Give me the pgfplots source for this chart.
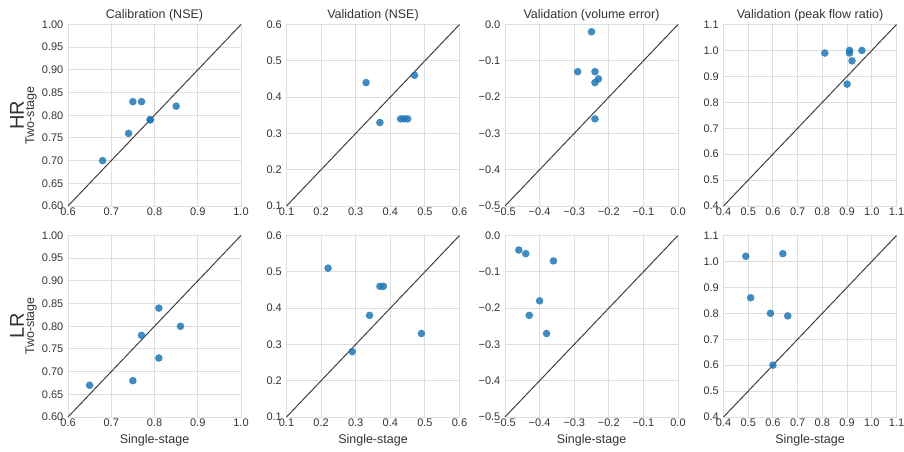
\documentclass[border=0pt]{standalone}
\usepackage{fontspec}
\setmainfont{Liberation Sans}
\usepackage{pgfplots}
\pgfplotsset{compat=1.18}
\definecolor{gridc}{HTML}{DEDEDE}
\definecolor{txt}{HTML}{333333}
\definecolor{mk}{HTML}{1F77B4}
\definecolor{diag}{HTML}{404040}
\pgfplotsset{
  panel/.style={
    scale only axis, width=173pt, height=181.5pt, anchor=south west,
    axis line style={draw=gridc, line width=1pt},
    grid=major, grid style={draw=gridc, line width=1pt},
    major tick length=0pt, tick style={draw=none},
    ticklabel style={font=\fontsize{11}{13}\selectfont, text=txt},
    xticklabel style={inner sep=1.5pt},
    yticklabel style={inner sep=0pt, xshift=-4.5pt},
    clip=false,
  },
  pts/.style={color=mk, only marks, mark=*, mark size=3.8pt, mark options={fill=mk, draw opacity=0, fill opacity=0.85}},
  dg/.style={diag, line width=1pt, no marks},
  pA/.style={xmin=0.6,xmax=1.0,ymin=0.6,ymax=1.0,
    xtick={0.6,0.7,0.8,0.9,1.0}, xticklabels={0.6,0.7,0.8,0.9,1.0},
    ytick={0.6,0.65,0.7,0.75,0.8,0.85,0.9,0.95,1.0},
    yticklabels={0.60,0.65,0.70,0.75,0.80,0.85,0.90,0.95,1.00}},
  pB/.style={xmin=0.1,xmax=0.6,ymin=0.1,ymax=0.6,
    xtick={0.1,0.2,0.3,0.4,0.5,0.6}, xticklabels={0.1,0.2,0.3,0.4,0.5,0.6},
    ytick={0.1,0.2,0.3,0.4,0.5,0.6}, yticklabels={0.1,0.2,0.3,0.4,0.5,0.6}},
  pC/.style={xmin=-0.5,xmax=0,ymin=-0.5,ymax=0,
    xtick={-0.5,-0.4,-0.3,-0.2,-0.1,0}, xticklabels={−0.5,−0.4,−0.3,−0.2,−0.1,0.0},
    ytick={-0.5,-0.4,-0.3,-0.2,-0.1,0}, yticklabels={−0.5,−0.4,−0.3,−0.2,−0.1,0.0}},
  pD/.style={xmin=0.4,xmax=1.1,ymin=0.4,ymax=1.1,
    xtick={0.4,0.5,0.6,0.7,0.8,0.9,1.0,1.1}, xticklabels={0.4,0.5,0.6,0.7,0.8,0.9,1.0,1.1},
    ytick={0.4,0.5,0.6,0.7,0.8,0.9,1.0,1.1}, yticklabels={0.4,0.5,0.6,0.7,0.8,0.9,1.0,1.1}},
}
\begin{document}
\begin{tikzpicture}[x=1pt,y=1pt]
\useasboundingbox (0pt,0pt) rectangle (904pt,451pt);
% ---------- Row 1: HR ----------
\begin{axis}[panel, pA, at={(68pt,245pt)}]
\addplot[dg] coordinates {(0.6,0.6) (1.0,1.0)};
\addplot[pts] coordinates {(0.68,0.70) (0.74,0.76) (0.75,0.83) (0.77,0.83) (0.79,0.79) (0.79,0.79) (0.85,0.82)};
\end{axis}
\begin{axis}[panel, pB, at={(286.5pt,245pt)}]
\addplot[dg] coordinates {(0.1,0.1) (0.6,0.6)};
\addplot[pts] coordinates {(0.33,0.44) (0.37,0.33) (0.43,0.34) (0.44,0.34) (0.45,0.34) (0.47,0.46)};
\end{axis}
\begin{axis}[panel, pC, at={(505pt,245pt)}]
\addplot[dg] coordinates {(-0.5,-0.5) (0,0)};
\addplot[pts] coordinates {(-0.25,-0.02) (-0.29,-0.13) (-0.24,-0.13) (-0.23,-0.15) (-0.24,-0.16) (-0.24,-0.26)};
\end{axis}
\begin{axis}[panel, pD, at={(723.5pt,245pt)}]
\addplot[dg] coordinates {(0.4,0.4) (1.1,1.1)};
\addplot[pts] coordinates {(0.81,0.99) (0.91,1.00) (0.91,0.99) (0.92,0.96) (0.96,1.00) (0.90,0.87)};
\end{axis}
% ---------- Row 2: LR ----------
\begin{axis}[panel, pA, at={(68pt,34pt)}]
\addplot[dg] coordinates {(0.6,0.6) (1.0,1.0)};
\addplot[pts] coordinates {(0.65,0.67) (0.75,0.68) (0.77,0.78) (0.81,0.84) (0.81,0.73) (0.86,0.80)};
\end{axis}
\begin{axis}[panel, pB, at={(286.5pt,34pt)}]
\addplot[dg] coordinates {(0.1,0.1) (0.6,0.6)};
\addplot[pts] coordinates {(0.22,0.51) (0.29,0.28) (0.34,0.38) (0.37,0.46) (0.38,0.46) (0.49,0.33)};
\end{axis}
\begin{axis}[panel, pC, at={(505pt,34pt)}]
\addplot[dg] coordinates {(-0.5,-0.5) (0,0)};
\addplot[pts] coordinates {(-0.46,-0.04) (-0.44,-0.05) (-0.36,-0.07) (-0.40,-0.18) (-0.43,-0.22) (-0.38,-0.27)};
\end{axis}
\begin{axis}[panel, pD, at={(723.5pt,34pt)}]
\addplot[dg] coordinates {(0.4,0.4) (1.1,1.1)};
\addplot[pts] coordinates {(0.49,1.02) (0.64,1.03) (0.51,0.86) (0.59,0.80) (0.66,0.79) (0.60,0.60)};
\end{axis}
% ---------- titles and labels ----------
\begin{scope}[every node/.style={text=txt, font=\fontsize{12.5}{15}\selectfont}]
\node at (154.5pt,436pt) {Calibration (NSE)};
\node at (373pt,436pt) {Validation (NSE)};
\node at (591.5pt,436pt) {Validation (volume error)};
\node at (810pt,436pt) {Validation (peak flow ratio)};
\node at (154.5pt,11pt) {Single-stage};
\node at (373pt,11pt) {Single-stage};
\node at (591.5pt,11pt) {Single-stage};
\node at (810pt,11pt) {Single-stage};
\node[rotate=90] at (31pt,335.5pt) {Two-stage};
\node[rotate=90] at (31pt,125pt) {Two-stage};
\node[rotate=90, font=\fontsize{20}{24}\selectfont] at (17pt,335.5pt) {HR};
\node[rotate=90, font=\fontsize{20}{24}\selectfont] at (17pt,125pt) {LR};
\end{scope}
\end{tikzpicture}
\end{document}
